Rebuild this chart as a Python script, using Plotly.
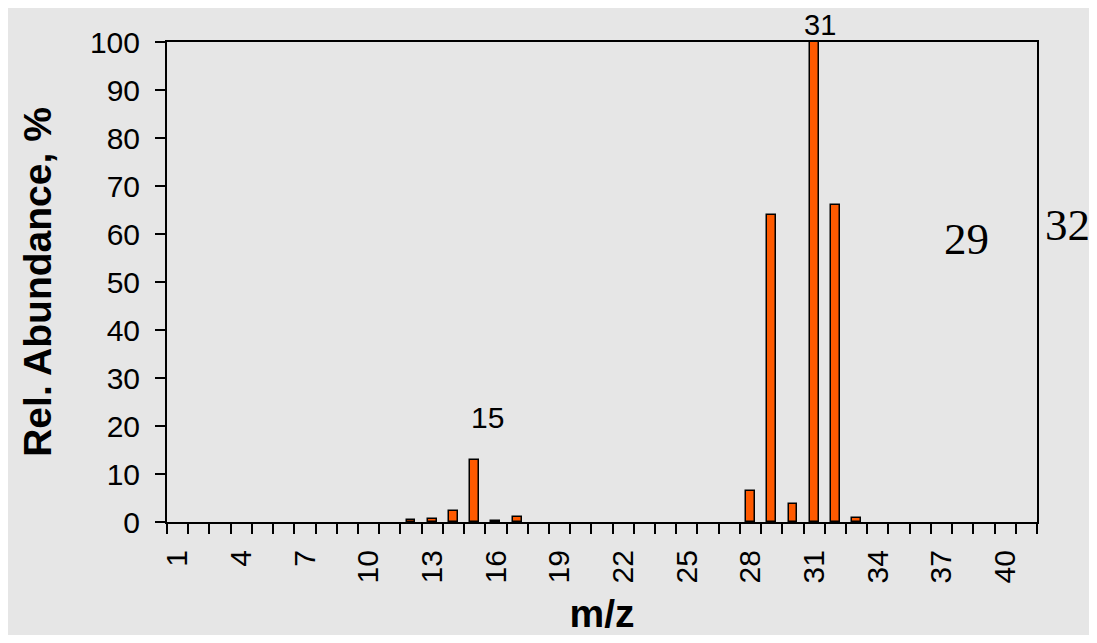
import plotly.graph_objects as go

# m/z categories and relative abundance (%)
mz = list(range(1, 42))
abundance = [0, 0, 0, 0, 0, 0, 0, 0, 0, 0, 0,
             0.4, 0.6, 2.3, 13, 0.3, 1.0,
             0, 0, 0, 0, 0, 0, 0, 0, 0, 0,
             6.5, 64, 3.7, 100, 66, 0.9,
             0, 0, 0, 0, 0, 0, 0, 0]
x_tick_labels = [str(v) for v in range(1, 41, 3)]
y_ticks = list(range(0, 101, 10))

BG = "#E6E6E6"
SANS = "Liberation Sans, Arial, sans-serif"
SERIF = "Liberation Serif, Times New Roman, serif"

fig = go.Figure()
fig.add_trace(go.Bar(
    x=mz,
    y=[v if v > 0 else None for v in abundance],
    width=0.42,
    marker=dict(color="#FF5A00", line=dict(color="#000000", width=1.5)),
    hoverinfo="x+y",
))

fig.update_layout(
    width=1081, height=627,
    margin=dict(l=159, r=52, t=34, b=113, autoexpand=False),
    paper_bgcolor=BG, plot_bgcolor=BG,
    showlegend=False,
    font=dict(family=SANS, color="#000000", size=30),
    bargap=0,
)

fig.update_xaxes(
    range=[0.5, 41.5],
    automargin=False,
    tickmode="array",
    tickvals=[int(t) for t in x_tick_labels],
    ticktext=x_tick_labels,
    tickangle=-90,
    tickfont=dict(size=30, family=SANS),
    ticklabelstandoff=14,
    ticks="outside", ticklen=0, tickcolor="rgba(0,0,0,0)",
    minor=dict(tickvals=[i + 0.5 for i in range(0, 42)], ticks="outside",
               ticklen=10, tickwidth=2, tickcolor="#000000", showgrid=False),
    showline=True, linecolor="#000000", linewidth=2, mirror=True,
    showgrid=False, zeroline=False,
    title=dict(text="<b>m/z</b>", font=dict(size=39, family=SANS), standoff=30),
)
fig.update_yaxes(
    range=[0, 100],
    automargin=False,
    tickmode="array", tickvals=y_ticks,
    tickfont=dict(size=30, family=SANS),
    ticklabelstandoff=9,
    ticks="outside", ticklen=10, tickwidth=2, tickcolor="#000000",
    showline=True, linecolor="#000000", linewidth=2, mirror=True,
    showgrid=False, zeroline=False,
    title=dict(text="<b>Rel. Abundance, %</b>", font=dict(size=39, family=SANS), standoff=26),
)

annotations = [
    dict(text="15", x=0.368, y=0.217, font=dict(family=SANS, size=30)),
    dict(text="31", x=0.751, y=1.036, font=dict(family=SANS, size=29)),
    dict(text="29", x=0.919, y=0.590, font=dict(family=SERIF, size=45)),
    dict(text="32", x=1.0348, y=0.619, font=dict(family=SERIF, size=45)),
]
for a in annotations:
    fig.add_annotation(xref="paper", yref="paper", showarrow=False, borderpad=0,
                       xanchor="center", yanchor="middle", **a)

fig.write_html("out.html")
